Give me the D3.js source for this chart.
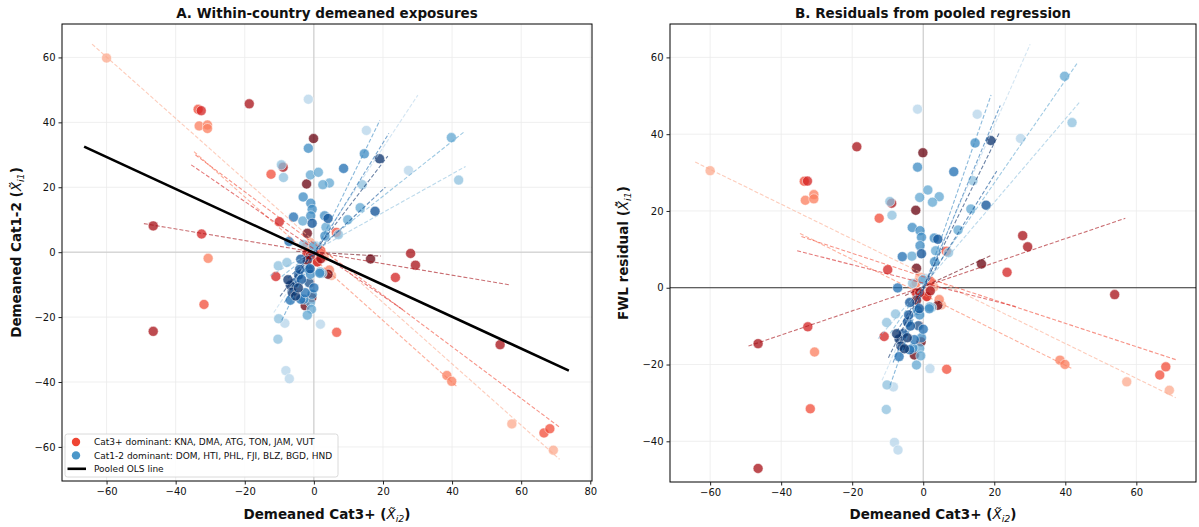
<!DOCTYPE html>
<html>
<head>
<meta charset="utf-8">
<script src="https://cdn.jsdelivr.net/npm/d3@7"></script>
<style>
  body { margin: 0; background: #fff; }
  text { font-family: "DejaVu Sans", sans-serif; fill: #111; }
</style>
</head>
<body>
<script>
// country groups
var redCountries = ["KNA", "DMA", "ATG", "TON", "JAM", "VUT"];
var blueCountries = ["DOM", "HTI", "PHL", "FJI", "BLZ", "BGD", "HND"];

// demeaned points per country: [Cat3+ (x), Cat1-2 (y)]
var ptsKNA = [[-60, 59.8], [69.3, -61.0], [57.3, -52.9], [5.1, -7.2], [-2.5, 1.5], [1.5, -2.0], [-1, 3], [3, -1.5]];
var ptsDMA = [[-33.2, 38.9], [-30.8, 39.2], [-30.8, 38.1], [-30.6, -1.9], [38.5, -38.0], [39.9, -39.8], [4.5, -5.5], [-2, 2], [1, -3]];
var ptsATG = [[-33.5, 44.0], [-31.8, -16.1], [-12.4, 24.0], [6.5, 6.1], [6.6, -24.7], [66.6, -55.7], [68.3, -54.4], [-1.5, -1], [2, 0.5]];
var ptsTON = [[-32.6, 43.6], [-32.5, 5.6], [-11.0, -7.5], [-10.0, 9.4], [23.6, -7.8], [-2, -0.5], [1, -3]];
var ptsJAM = [[-46.5, 8.1], [-46.5, -24.4], [-18.7, 45.7], [-8.9, 26.2], [28.0, -0.4], [29.4, -4.0], [53.9, -28.5], [-1, -1], [2, -2]];
var ptsVUT = [[-0.1, 35.0], [-2.1, 21.0], [-1.9, 5.8], [-1.9, -2.5], [4.1, -6.8], [16.4, -2.1], [-0.6, -14.0], [-2.5, -16.5], [-1.2, -9.5]];

var ptsDOM = [[-1.6, 47.1], [15.2, 37.5], [27.4, 25.2], [-8.4, -21.9], [-8.1, -36.5], [-7.1, -39.0], [1.9, -22.2], [0.5, 2]];
var ptsHTI = [[41.9, 22.2], [-10.3, -4.2], [-7.8, -3.2], [-10.2, -20.5], [-10.4, -26.8], [-9.4, 26.9], [-8.8, 23.0], [14.0, 20.8], [7.1, 5.4], [2.4, -6.5], [-3.0, 2.4]];
var ptsPHL = [[39.8, 35.3], [13.4, 13.7], [9.8, 10.0], [3.5, 7.7], [-3.2, 9.6], [-1.0, 23.8], [1.3, 24.6], [4.5, 21.3], [2.6, 20.8], [-0.1, 1.9], [-1.0, -15.5], [-0.7, -17.6], [-1.9, -19.4], [1.8, -6.1]];
var ptsFJI = [[14.6, 30.3], [-1.6, 32.0], [-3.1, 17.0], [-0.9, 15.1], [-0.5, 13.2], [-0.9, 11.2], [3.1, 11.2], [3.2, 5.0], [-2.9, -14.5], [-0.5, -13.0], [-1.4, -9.4], [-1.6, -5.3], [-1.0, -6.8], [1.7, -6.5]];
var ptsBLZ = [[8.6, 25.8], [-5.9, 10.8], [-7.2, 3.3], [-6.8, -14.8], [-3.8, -14.5], [0.0, -11.0], [-2.5, -12.5]];
var ptsBGD = [[17.7, 12.6], [4.1, 10.4], [-0.5, 8.9], [-3.8, -2.2], [-1.1, -5.1], [-5.6, -9.4], [-4.4, -7.0], [-4.1, -5.3], [-3.6, -8.4]];
var ptsHND = [[19.0, 28.8], [-6.8, -10.2], [-6.3, -12.3], [-5.3, -13.5], [-4.5, -11.0], [-7.5, -8.5]];

// within-country fitted lines: [x0, y0, x1, y1]
var fitKNA = [-64.2, 64.1, 71.1, -63.8];
var fitDMA = [-34.7, 31.0, 41.7, -41.7];
var fitATG = [-34.3, 30.0, 71.1, -53.9];
var fitTON = [-35.5, 26.9, 26.0, -17.9];
var fitJAM = [-49.2, 8.8, 56.9, -10.1];
var fitVUT = [-5.1, 0.3, 19.4, -1.2];
var fitDOM = [-11.6, -18.6, 30.1, 48.4];
var fitHTI = [-12.7, -7.2, 43.9, 26.4];
var fitPHL = [-9.3, -7.5, 43.4, 37.0];
var fitFJI = [-9.3, -21.0, 19.1, 40.6];
var fitBLZ = [-8.5, -15.5, 21.7, 36.6];
var fitBGD = [-7.5, -8.0, 20.7, 20.0];
var fitHND = [-9.8, -13.6, 21.4, 29.6];

// pooled OLS line in panel A
var pooledLine = [-66.5, 32.5, 73.8, -36.5];

var xTicks = [-60, -40, -20, 0, 20, 40, 60, 80];
var yTicksA = [-60, -40, -20, 0, 20, 40, 60];
var xTicksB = [-60, -40, -20, 0, 20, 40, 60];
var yTicksB = [-40, -20, 0, 20, 40, 60];

var ptsByCountry = { KNA: ptsKNA, DMA: ptsDMA, ATG: ptsATG, TON: ptsTON, JAM: ptsJAM, VUT: ptsVUT,
  DOM: ptsDOM, HTI: ptsHTI, PHL: ptsPHL, FJI: ptsFJI, BLZ: ptsBLZ, BGD: ptsBGD, HND: ptsHND };
var fitByCountry = { KNA: fitKNA, DMA: fitDMA, ATG: fitATG, TON: fitTON, JAM: fitJAM, VUT: fitVUT,
  DOM: fitDOM, HTI: fitHTI, PHL: fitPHL, FJI: fitFJI, BLZ: fitBLZ, BGD: fitBGD, HND: fitHND };

// colours: Reds / Blues from 0.3 to 1
var color = {};
redCountries.forEach(function(c, i) { color[c] = d3.interpolateReds(0.3 + 0.7 * i / (redCountries.length - 1)); });
blueCountries.forEach(function(c, i) { color[c] = d3.interpolateBlues(0.3 + 0.7 * i / (blueCountries.length - 1)); });
var countries = redCountries.concat(blueCountries);

// pooled coefficients (for FWL residuals in panel B)
var pSlope = (pooledLine[3] - pooledLine[1]) / (pooledLine[2] - pooledLine[0]);
var pIcpt = pooledLine[1] - pSlope * pooledLine[0];
function resid(x, y) { return y - (pIcpt + pSlope * x); }

var svg = d3.select("body").append("svg")
    .attr("width", 1199)
    .attr("height", 527);

var panels = [
  { left: 62, right: 592, top: 24, bottom: 481, xdom: [-72.9, 80.5], ydom: [-70.5, 70.3],
    xt: xTicks, yt: yTicksA, title: "A. Within-country demeaned exposures", resid: false },
  { left: 670, right: 1196, top: 24, bottom: 482, xdom: [-71.3, 76.8], ydom: [-50.6, 68.7],
    xt: xTicksB, yt: yTicksB, title: "B. Residuals from pooled regression", resid: true }
];

panels.forEach(function(p) {
  var x = d3.scaleLinear().domain(p.xdom).range([p.left, p.right]);
  var y = d3.scaleLinear().domain(p.ydom).range([p.bottom, p.top]);
  var g = svg.append("g");
  var clipId = "clip" + (p.resid ? "B" : "A");
  svg.append("clipPath").attr("id", clipId).append("rect")
      .attr("x", p.left).attr("y", p.top).attr("width", p.right - p.left).attr("height", p.bottom - p.top);

  // grid
  g.selectAll(".gx").data(p.xt).enter().append("line")
      .attr("x1", function(d) { return x(d); }).attr("x2", function(d) { return x(d); })
      .attr("y1", p.top).attr("y2", p.bottom)
      .attr("stroke", "#ebebeb").attr("stroke-width", 0.8);
  g.selectAll(".gy").data(p.yt).enter().append("line")
      .attr("y1", function(d) { return y(d); }).attr("y2", function(d) { return y(d); })
      .attr("x1", p.left).attr("x2", p.right)
      .attr("stroke", "#ebebeb").attr("stroke-width", 0.8);

  // zero lines
  g.append("line").attr("x1", x(0)).attr("x2", x(0)).attr("y1", p.top).attr("y2", p.bottom)
      .attr("stroke", "#c8c8c8").attr("stroke-width", 1);
  g.append("line").attr("x1", p.left).attr("x2", p.right).attr("y1", y(0)).attr("y2", y(0))
      .attr("stroke", p.resid ? "#333" : "#c8c8c8").attr("stroke-width", 1);

  var plot = g.append("g").attr("clip-path", "url(#" + clipId + ")");

  // scatter points
  countries.forEach(function(c) {
    plot.selectAll(null).data(ptsByCountry[c]).enter().append("circle")
        .attr("cx", function(d) { return x(d[0]); })
        .attr("cy", function(d) { return y(p.resid ? resid(d[0], d[1]) : d[1]); })
        .attr("r", 5)
        .attr("fill", color[c])
        .attr("fill-opacity", 0.75)
        .attr("stroke", "#fff")
        .attr("stroke-width", 0.5);
  });

  // within-country dashed fits
  countries.forEach(function(c) {
    var f = fitByCountry[c];
    var y0 = p.resid ? resid(f[0], f[1]) : f[1];
    var y1 = p.resid ? resid(f[2], f[3]) : f[3];
    plot.append("line")
        .attr("x1", x(f[0])).attr("y1", y(y0))
        .attr("x2", x(f[2])).attr("y2", y(y1))
        .attr("stroke", color[c])
        .attr("stroke-width", 1.1)
        .attr("stroke-opacity", 0.6)
        .attr("stroke-dasharray", "4,2");
  });

  if (!p.resid) {
    plot.append("line")
        .attr("x1", x(pooledLine[0])).attr("y1", y(pooledLine[1]))
        .attr("x2", x(pooledLine[2])).attr("y2", y(pooledLine[3]))
        .attr("stroke", "#000").attr("stroke-width", 2.6);
  }

  // frame
  g.append("rect").attr("x", p.left).attr("y", p.top)
      .attr("width", p.right - p.left).attr("height", p.bottom - p.top)
      .attr("fill", "none").attr("stroke", "#000").attr("stroke-width", 1);

  // axes
  var ax = g.append("g").attr("transform", "translate(0," + p.bottom + ")")
      .call(d3.axisBottom(x).tickValues(p.xt).tickSize(3.5).tickSizeOuter(0).tickPadding(3));
  var ay = g.append("g").attr("transform", "translate(" + p.left + ",0)")
      .call(d3.axisLeft(y).tickValues(p.yt).tickSize(3.5).tickSizeOuter(0).tickPadding(3));
  [ax, ay].forEach(function(a) {
    a.select(".domain").remove();
    a.selectAll("text").attr("font-size", 10).attr("font-family", "DejaVu Sans").attr("fill", "#222");
    a.selectAll("line").attr("stroke", "#222");
  });

  // title
  g.append("text").attr("x", (p.left + p.right) / 2).attr("y", 18)
      .attr("text-anchor", "middle").attr("font-size", 13.5).attr("font-weight", "bold")
      .text(p.title);

  // x label
  var xl = g.append("text").attr("x", (p.left + p.right) / 2).attr("y", 519)
      .attr("text-anchor", "middle").attr("font-size", 13.5).attr("font-weight", "bold");
  xl.append("tspan").text("Demeaned Cat3+ (");
  xl.append("tspan").attr("font-style", "italic").attr("font-weight", "normal").text("X\u0303");
  xl.append("tspan").attr("font-style", "italic").attr("font-weight", "normal").attr("font-size", 9.5).attr("dy", 3).text("i2");
  xl.append("tspan").attr("dy", -3).text(")");

  // y label
  var yc = (p.top + p.bottom) / 2;
  var yx = p.resid ? 628 : 21;
  var yl = g.append("text").attr("transform", "translate(" + yx + "," + yc + ") rotate(-90)")
      .attr("text-anchor", "middle").attr("font-size", 13.5).attr("font-weight", "bold");
  yl.append("tspan").text(p.resid ? "FWL residual (" : "Demeaned Cat1-2 (");
  yl.append("tspan").attr("font-style", "italic").attr("font-weight", "normal")
      .text(p.resid ? "X\u0303\u0303" : "X\u0303");
  yl.append("tspan").attr("font-style", "italic").attr("font-weight", "normal").attr("font-size", 9.5).attr("dy", 3).text("i1");
  yl.append("tspan").attr("dy", -3).text(")");
});

// legend in panel A
var legendItems = [
  { label: "Cat3+ dominant: " + redCountries.join(", "), type: "dot", col: d3.interpolateReds(0.6) },
  { label: "Cat1-2 dominant: " + blueCountries.join(", "), type: "dot", col: d3.interpolateBlues(0.6) },
  { label: "Pooled OLS line", type: "line", col: "#000" }
];
var lg = svg.append("g").attr("transform", "translate(65,434)");
lg.append("rect").attr("width", 273).attr("height", 43).attr("rx", 2.5)
    .attr("fill", "#fff").attr("fill-opacity", 0.85).attr("stroke", "#d0d0d0").attr("stroke-width", 0.8);
legendItems.forEach(function(d, i) {
  var cy = 8 + i * 13.4;
  if (d.type === "dot") {
    lg.append("circle").attr("cx", 11).attr("cy", cy).attr("r", 4.2).attr("fill", d.col);
  } else {
    lg.append("line").attr("x1", 2.5).attr("x2", 21).attr("y1", cy).attr("y2", cy)
        .attr("stroke", d.col).attr("stroke-width", 2.6);
  }
  lg.append("text").attr("x", 29).attr("y", cy + 3.2).attr("font-size", 9).attr("fill", "#222").text(d.label);
});
</script>
</body>
</html>
